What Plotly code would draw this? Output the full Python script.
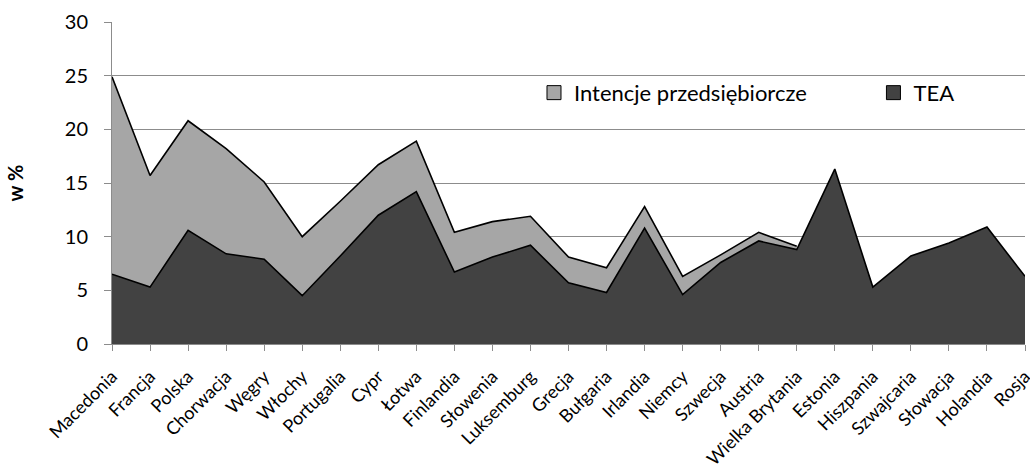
import plotly.graph_objects as go

# Countries on the horizontal axis
countries = [
    "Macedonia", "Francja", "Polska", "Chorwacja", "Węgry", "Włochy",
    "Portugalia", "Cypr", "Łotwa", "Finlandia", "Słowenia", "Luksemburg",
    "Grecja", "Bułgaria", "Irlandia", "Niemcy", "Szwecja", "Austria",
    "Wielka Brytania", "Estonia", "Hiszpania", "Szwajcaria", "Słowacja",
    "Holandia", "Rosja",
]

# Entrepreneurial intentions (%), no data from Estonia onwards
intencje = [
    24.9, 15.7, 20.8, 18.2, 15.1, 10.0,
    13.3, 16.7, 18.9, 10.4, 11.4, 11.9,
    8.1, 7.1, 12.8, 6.3, 8.3, 10.4,
    9.1, None, None, None, None,
    None, None,
]

# Total early-stage entrepreneurial activity (%)
tea = [
    6.5, 5.3, 10.6, 8.4, 7.9, 4.5,
    8.2, 12.0, 14.2, 6.7, 8.1, 9.2,
    5.7, 4.8, 10.8, 4.6, 7.6, 9.6,
    8.8, 16.3, 5.3, 8.2, 9.4,
    10.9, 6.3,
]

y_ticks = [0, 5, 10, 15, 20, 25, 30]

LIGHT = "#a6a6a6"
DARK = "#424242"
GRID = "#8c8c8c"
FONT = "Lato, Open Sans, sans-serif"

fig = go.Figure()

fig.add_trace(go.Scatter(
    x=countries, y=intencje, mode="lines", fill="tozeroy",
    fillcolor=LIGHT, line=dict(color="black", width=1.6),
    showlegend=False, hoverinfo="skip",
))
fig.add_trace(go.Scatter(
    x=countries, y=tea, mode="lines", fill="tozeroy",
    fillcolor=DARK, line=dict(color="black", width=1.6),
    showlegend=False, hoverinfo="skip",
))

# Legend entries as square swatches
fig.add_trace(go.Scatter(
    x=[None], y=[None], mode="markers", name="Intencje przedsiębiorcze",
    marker=dict(symbol="square", size=14, color=LIGHT,
                line=dict(color="black", width=1)),
    legend="legend",
))
fig.add_trace(go.Scatter(
    x=[None], y=[None], mode="markers", name="TEA",
    marker=dict(symbol="square", size=14, color=DARK,
                line=dict(color="black", width=1)),
    legend="legend2",
))

legend_common = dict(
    font=dict(family=FONT, size=22, color="black"),
    bgcolor="rgba(0,0,0,0)", itemwidth=30,
    xanchor="left", yanchor="middle", yref="paper",
)

fig.update_layout(
    width=1030, height=468,
    margin=dict(l=112, r=5, t=22, b=124, autoexpand=False),
    plot_bgcolor="white", paper_bgcolor="white",
    font=dict(family=FONT, color="black"),
    legend=dict(x=0.4622, y=0.78, **legend_common),
    legend2=dict(x=0.834, y=0.78, **legend_common),
    xaxis=dict(
        type="category", range=[0, len(countries) - 1], automargin=False,
        showgrid=False, showline=True, linecolor=GRID, linewidth=1,
        ticks="outside", ticklen=6, tickcolor=GRID, tickwidth=1,
        tickangle=-45, ticklabelstandoff=8,
        tickfont=dict(family=FONT, size=18, color="black"),
    ),
    yaxis=dict(
        range=[0, 30], tickvals=y_ticks, automargin=False,
        showgrid=True, gridcolor=GRID, gridwidth=1,
        showline=True, linecolor=GRID, linewidth=1,
        ticks="outside", ticklen=7, tickcolor=GRID, tickwidth=1,
        ticklabelstandoff=12,
        tickfont=dict(family=FONT, size=20, color="black"),
        zeroline=False,
        title=dict(text="<b>w %</b>", font=dict(family=FONT, size=20, color="black"),
                   standoff=35),
    ),
)

fig.write_html("out.html")
